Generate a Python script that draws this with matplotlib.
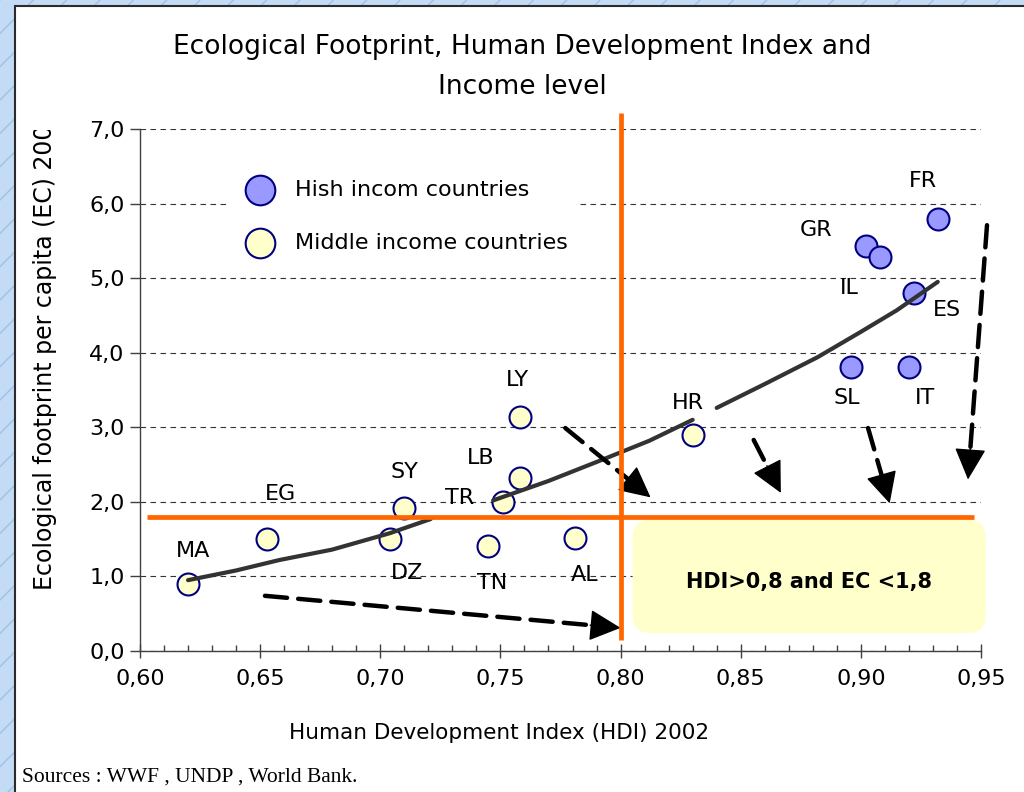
import math
import matplotlib
matplotlib.use("Agg")
import matplotlib.pyplot as plt
from matplotlib.patches import Rectangle, FancyBboxPatch
from matplotlib.ticker import MultipleLocator, FuncFormatter
from matplotlib.transforms import Bbox

plt.rcParams['font.family'] = ['DejaVu Sans']

# countries: HDI 2002, ecological footprint per capita
mid_codes = ['MA', 'EG', 'DZ', 'SY', 'TR', 'LB', 'LY', 'TN', 'AL', 'HR']
mid_hdi = [0.620, 0.653, 0.704, 0.710, 0.751, 0.758, 0.758, 0.745, 0.781, 0.830]
mid_ec = [0.90, 1.50, 1.50, 1.92, 2.00, 2.32, 3.14, 1.41, 1.51, 2.90]

high_codes = ['GR', 'IL', 'FR', 'ES', 'SL', 'IT']
high_hdi = [0.902, 0.908, 0.932, 0.922, 0.896, 0.920]
high_ec = [5.43, 5.29, 5.79, 4.80, 3.81, 3.81]

# trend curve (three visible pieces)
trend_pieces = [
    ([0.620, 0.640, 0.658, 0.680, 0.704, 0.721], [0.95, 1.08, 1.22, 1.36, 1.58, 1.77]),
    ([0.747, 0.770, 0.792, 0.812, 0.830], [2.02, 2.28, 2.56, 2.82, 3.10]),
    ([0.840, 0.860, 0.882, 0.900, 0.915, 0.932], [3.26, 3.58, 3.94, 4.28, 4.57, 4.95]),
]

HDI_LIMIT = 0.80
EC_LIMIT = 1.8

# dashed arrows (start, end) in data units
arrows = [
    ((0.652, 0.74), (0.800, 0.31)),
    ((0.777, 2.99), (0.8125, 2.06)),
    ((0.8554, 2.83), (0.8667, 2.12)),
    ((0.903, 2.99), (0.912, 1.98)),
    ((0.9525, 5.71), (0.9446, 2.30)),
]

# label offsets in pixels (dx, dy; dy down)
mid_offsets = [(5, -33), (13, -45), (17, 34), (0, -36), (-43, -4), (-39, -20),
               (-2, -37), (4, 37), (10, 37), (-5, -32)]
high_offsets = [(-50, -16), (-31, 31), (-15, -38), (33, 17), (-4, 31), (16, 31)]

fig = plt.figure(figsize=(10.24, 7.92), dpi=100)
fig.patch.set_facecolor('#C4DBF6')
fig.patches.append(Rectangle((0, 0), 1, 1, transform=fig.transFigure, facecolor='#C4DBF6',
                             edgecolor='#9FC0E6', hatch='/', lw=0, zorder=-20))
fig.patches.append(Rectangle((15 / 1024, -0.01), 1, (792 - 6) / 792 + 0.01, transform=fig.transFigure,
                             facecolor='white', edgecolor='#2B2B2B', lw=1.5, zorder=-10))

ax = fig.add_axes([140 / 1024, 141 / 792, 841 / 1024, 522 / 792])
ax.set_facecolor('none')
ax.set_xlim(0.60, 0.95)
ax.set_ylim(0, 7)

for s in ['top', 'right']:
    ax.spines[s].set_visible(False)
for s in ['left', 'bottom']:
    ax.spines[s].set_color('#404040')
    ax.spines[s].set_linewidth(1.0)

ax.xaxis.set_major_locator(MultipleLocator(0.05))
ax.xaxis.set_minor_locator(MultipleLocator(0.01))
ax.yaxis.set_major_locator(MultipleLocator(1.0))
ax.xaxis.set_major_formatter(FuncFormatter(lambda v, p: f"{v:.2f}".replace('.', ',')))
ax.yaxis.set_major_formatter(FuncFormatter(lambda v, p: f"{v:.1f}".replace('.', ',')))
ax.tick_params(axis='x', which='major', direction='inout', length=10, width=1, color='#404040',
               labelsize=16, pad=8)
ax.tick_params(axis='x', which='minor', direction='in', length=4, width=1, color='#404040')
ax.tick_params(axis='y', which='major', direction='out', length=7, width=1, color='#404040',
               labelsize=16, pad=4)
ax.grid(axis='y', linestyle=(0, (5, 4)), color='#333333', linewidth=0.8, zorder=0)
ax.set_axisbelow(True)

# target box
box = FancyBboxPatch((0.805, 0.24), 0.147, 1.52, boxstyle="round,pad=0,rounding_size=0.0075",
                     mutation_aspect=32, facecolor='#FFFFCC', edgecolor='none', zorder=1, clip_on=False)
ax.add_patch(box)
ax.text(0.8785, 0.93, 'HDI>0,8 and EC <1,8', ha='center', va='center', fontsize=15,
        fontweight='bold', zorder=2)

# threshold lines
ax.plot([0.603, 0.947], [EC_LIMIT, EC_LIMIT], color='#FF6600', lw=3.4, zorder=5, solid_capstyle='butt')
ax.plot([HDI_LIMIT, HDI_LIMIT], [0.15, 7.21], color='#FF6600', lw=3.4, zorder=5,
        solid_capstyle='butt', clip_on=False)

# points
ax.scatter(high_hdi, high_ec, s=250, color='#9999FF', edgecolor='#000080', linewidth=1.5, zorder=3,
           label='Hish incom countries')
ax.scatter(mid_hdi, mid_ec, s=250, color='#FFFFCC', edgecolor='#000080', linewidth=1.5, zorder=3,
           label='Middle income countries')

for xs, ys in trend_pieces:
    ax.plot(xs, ys, color='#333333', lw=3, zorder=4, solid_capstyle='round')

for codes, xs, ys, offs in [(mid_codes, mid_hdi, mid_ec, mid_offsets),
                            (high_codes, high_hdi, high_ec, high_offsets)]:
    for c, x, y, (dx, dy) in zip(codes, xs, ys, offs):
        ax.annotate(c, (x, y), xytext=(dx * 0.72, -dy * 0.72), textcoords='offset points',
                    ha='center', va='center', fontsize=16, zorder=6)

# dashed shaft + solid head
head_len = 20  # points
for (x0, y0), (x1, y1) in arrows:
    p0 = ax.transData.transform((x0, y0))
    p1 = ax.transData.transform((x1, y1))
    ang = math.atan2(p1[1] - p0[1], p1[0] - p0[0])
    ax.annotate('', xy=(x1, y1), xytext=(x0, y0), annotation_clip=False,
                arrowprops=dict(arrowstyle='-', lw=3.2, linestyle=(0, (5, 2.5)), color='black',
                                shrinkA=0, shrinkB=head_len - 2), zorder=4)
    ax.annotate('', xy=(x1, y1), xytext=(-math.cos(ang) * (head_len + 2), -math.sin(ang) * (head_len + 2)),
                textcoords='offset points', annotation_clip=False,
                arrowprops=dict(arrowstyle='-|>,head_length=1.0,head_width=0.5', lw=1,
                                mutation_scale=20, color='black', shrinkA=0, shrinkB=0), zorder=4)

leg = ax.legend(loc='upper left', bbox_to_anchor=((229 - 140) / 841, (651 - 171) / 522),
                frameon=True, facecolor='white', edgecolor='none', framealpha=1, fontsize=16,
                markerscale=1.35, labelspacing=1.5, handletextpad=0.55, borderpad=0.4,
                borderaxespad=0)
leg.get_frame().set_boxstyle('square', pad=0)
leg.set_zorder(2)

fig.text(522 / 1024, (792 - 67) / 792, 'Ecological Footprint, Human Development Index and\nIncome level',
         ha='center', va='center', fontsize=19, linespacing=1.65)

ax.set_xlabel('Human Development Index (HDI) 2002', fontsize=15.5)
ax.xaxis.set_label_coords((499 - 140) / 841, (651 - 733) / 522)
ax.xaxis.label.set_va('center')

ylab = fig.text(45 / 1024, (792 - 590) / 792, 'Ecological footprint per capita (EC) 2002',
                rotation=90, ha='center', va='bottom', fontsize=17)
ylab.set_clip_box(Bbox([[0, 0], [1024, 792 - 130]]))
ylab.set_clip_on(True)

fig.text(22 / 1024, (792 - 777) / 792, 'Sources : WWF , UNDP , World Bank.', ha='left', va='center',
         fontsize=15.5, family=['Liberation Serif', 'DejaVu Serif'])

fig.savefig('out.png', dpi=100)
